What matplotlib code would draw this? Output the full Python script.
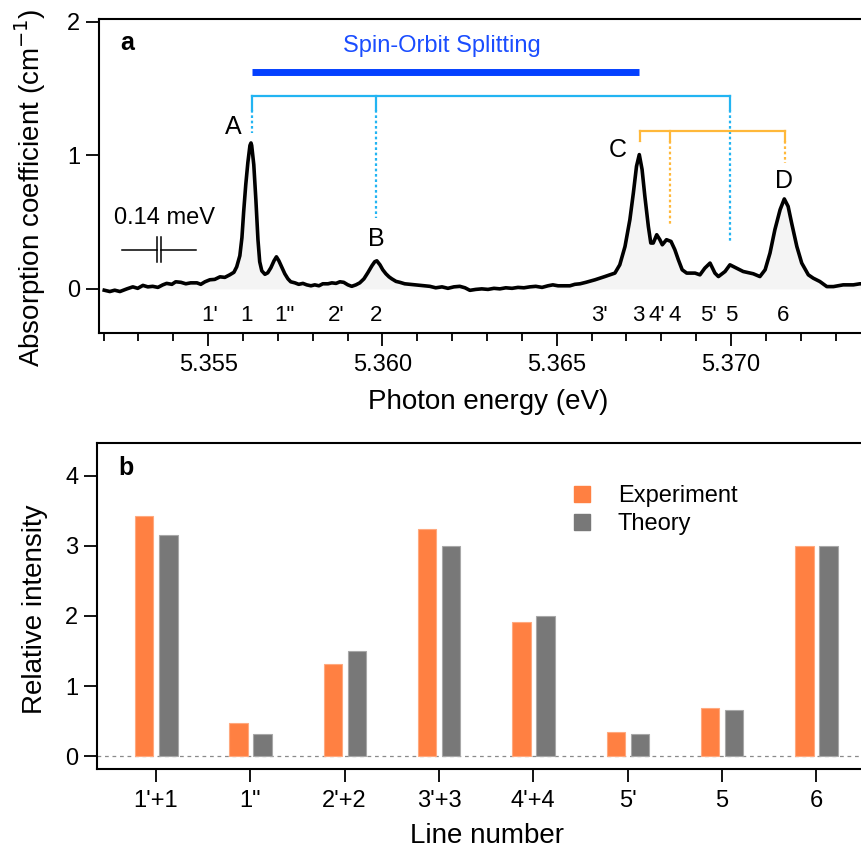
import matplotlib
matplotlib.use("Agg")
import matplotlib.pyplot as plt
from matplotlib.ticker import MultipleLocator, FormatStrFormatter
from matplotlib.patches import Patch

plt.rcParams['font.family'] = ['Liberation Sans', 'DejaVu Sans']

# --- panel a: absorption spectrum ---
energy = [5.35202, 5.35218, 5.35232, 5.35247, 5.35267, 5.35284, 5.35298, 5.35313,
          5.35327, 5.35341, 5.35356, 5.35370, 5.35381, 5.35396, 5.35407, 5.35422,
          5.35436, 5.35450, 5.35468, 5.35479, 5.35491, 5.35505, 5.35519, 5.35534,
          5.35548, 5.35562, 5.35574, 5.35582, 5.35591, 5.35597, 5.35602, 5.35608,
          5.35614, 5.35620, 5.35623, 5.35625, 5.35631, 5.35637, 5.35643, 5.35648,
          5.35654, 5.35663, 5.35671, 5.35680, 5.35689, 5.35696, 5.35703, 5.35712,
          5.35720, 5.35729, 5.35737, 5.35749, 5.35760, 5.35772, 5.35783, 5.35795,
          5.35806, 5.35818, 5.35829, 5.35844, 5.35855, 5.35867, 5.35878, 5.35889,
          5.35901, 5.35912, 5.35924, 5.35935, 5.35947, 5.35958, 5.35970, 5.35978,
          5.35984, 5.35993, 5.36001, 5.36010, 5.36019, 5.36027, 5.36039, 5.36050,
          5.36064, 5.36079, 5.36093, 5.36108, 5.36122, 5.36136, 5.36153, 5.36171,
          5.36188, 5.36205, 5.36222, 5.36237, 5.36251, 5.36268, 5.36285, 5.36303,
          5.36320, 5.36337, 5.36354, 5.36372, 5.36389, 5.36406, 5.36423, 5.36440,
          5.36458, 5.36475, 5.36489, 5.36504, 5.36521, 5.36538, 5.36552, 5.36567,
          5.36584, 5.36610, 5.36638, 5.36667, 5.36681, 5.36696, 5.36710, 5.36720,
          5.36729, 5.36737, 5.36745, 5.36753, 5.36763, 5.36770, 5.36777, 5.36787,
          5.36796, 5.36803, 5.36815, 5.36828, 5.36839, 5.36849, 5.36860, 5.36873,
          5.36897, 5.36911, 5.36925, 5.36940, 5.36954, 5.36964, 5.36983, 5.36997,
          5.37016, 5.37035, 5.37064, 5.37083, 5.37098, 5.37112, 5.37126, 5.37141,
          5.37153, 5.37164, 5.37174, 5.37189, 5.37203, 5.37222, 5.37236, 5.37255,
          5.37275, 5.37294, 5.37322, 5.37351, 5.37370, 5.37400, 5.37430]
absorb = [-0.01, -0.02, -0.01, -0.02, 0.0, 0.015, 0.004, 0.026,
          0.015, 0.019, 0.011, 0.030, 0.041, 0.034, 0.053, 0.049,
          0.038, 0.045, 0.045, 0.034, 0.053, 0.068, 0.071, 0.090,
          0.086, 0.105, 0.124, 0.165, 0.248, 0.383, 0.578, 0.780,
          0.945, 1.073, 1.092, 1.073, 0.930, 0.668, 0.368, 0.203,
          0.135, 0.109, 0.120, 0.158, 0.210, 0.240, 0.210, 0.158,
          0.113, 0.075, 0.053, 0.045, 0.034, 0.041, 0.030, 0.023,
          0.030, 0.023, 0.038, 0.038, 0.045, 0.041, 0.053, 0.049,
          0.030, 0.019, 0.030, 0.045, 0.075, 0.120, 0.173, 0.203,
          0.210, 0.180, 0.143, 0.113, 0.090, 0.075, 0.056, 0.049,
          0.038, 0.034, 0.030, 0.026, 0.023, 0.019, 0.008, 0.015,
          0.004, 0.015, 0.019, 0.008, -0.011, -0.004, 0.0, -0.004,
          0.004, 0.0, 0.008, 0.004, 0.011, 0.008, 0.015, 0.019,
          0.011, 0.023, 0.030, 0.023, 0.023, 0.023, 0.034, 0.038,
          0.049, 0.068, 0.092, 0.118, 0.180, 0.317, 0.518, 0.718,
          0.917, 1.005, 0.893, 0.692, 0.467, 0.343, 0.343, 0.405,
          0.368, 0.330, 0.368, 0.355, 0.293, 0.218, 0.143, 0.118,
          0.118, 0.105, 0.155, 0.193, 0.118, 0.092, 0.130, 0.180,
          0.155, 0.130, 0.113, 0.092, 0.143, 0.268, 0.443, 0.593,
          0.673, 0.617, 0.493, 0.317, 0.193, 0.105, 0.080, 0.055,
          0.017, 0.017, 0.030, 0.030, 0.038, 0.035, 0.030]

line_pos = [5.35505, 5.35610, 5.35720, 5.35868, 5.35981, 5.36624, 5.36734,
            5.36787, 5.36839, 5.36935, 5.37002, 5.37150]
line_lbl = ["1'", "1", '1"', "2'", "2", "3'", "3", "4'", "4", "5'", "5", "6"]

peak_lbl = ["A", "B", "C", "D"]
peak_x = [5.35571, 5.35983, 5.36675, 5.37152]
peak_y = [1.21, 0.373, 1.043, 0.805]

# brackets
so_x = [5.35625, 5.36737]
so_y = 1.62
cyan_x = [5.35625, 5.35983, 5.36997]
cyan_end = [1.17, 0.53, 0.345]
cyan_y = 1.44
orange_x = [5.36739, 5.36825, 5.37155]
orange_end = [1.10, 0.48, 0.945]
orange_y = 1.185

# --- panel b: relative intensities ---
categories = ["1'+1", '1"', "2'+2", "3'+3", "4'+4", "5'", "5", "6"]
experiment = [3.43, 0.47, 1.32, 3.24, 1.91, 0.35, 0.68, 3.00]
theory = [3.16, 0.32, 1.50, 3.00, 2.00, 0.32, 0.66, 3.00]

fig = plt.figure(figsize=(8.61, 8.47), dpi=100)
ax1 = fig.add_axes([0.1150, 0.6069, 0.9036, 0.3707])
ax2 = fig.add_axes([0.1127, 0.0924, 0.9059, 0.3849])

CYAN = "#22B4F2"
ORANGE = "#FFB83A"
BLUE = "#0440FF"

# panel a
ax1.fill_between(energy, absorb, 0, color="#F4F4F4", lw=0, zorder=1)
ax1.plot(energy, absorb, color="black", lw=2.6, zorder=3)

ax1.plot(so_x, [so_y, so_y], color=BLUE, lw=5, solid_capstyle="butt")
ax1.text(sum(so_x) / 2 - 0.0001, 1.815, "Spin-Orbit Splitting", color="#1A4DFF",
         fontsize=17, ha="center", va="center")

ax1.plot([cyan_x[0], cyan_x[-1]], [cyan_y, cyan_y], color=CYAN, lw=1.6)
for xx, ye in zip(cyan_x, cyan_end):
    ax1.plot([xx, xx], [cyan_y, 1.34], color=CYAN, lw=1.6)
    ax1.plot([xx, xx], [1.34, ye], color=CYAN, lw=1.6, ls=(0, (1.2, 1.2)))

ax1.plot([orange_x[0], orange_x[-1]], [orange_y, orange_y], color=ORANGE, lw=1.6)
for xx, ye in zip(orange_x, orange_end):
    ax1.plot([xx, xx], [orange_y, 1.105], color=ORANGE, lw=1.6)
    if ye < 1.105:
        ax1.plot([xx, xx], [1.105, ye], color=ORANGE, lw=1.6, ls=(0, (1.2, 1.2)))

for lbl, xx, yy in zip(peak_lbl, peak_x, peak_y):
    ax1.text(xx, yy, lbl, fontsize=18, ha="center", va="center")

for lbl, xx in zip(line_lbl, line_pos):
    ax1.text(xx, -0.2, lbl, fontsize=16, ha="center", va="center")

# resolution marker 0.14 meV
ax1.plot([5.35254, 5.35352], [0.293, 0.293], color="black", lw=1.1)
ax1.plot([5.35364, 5.35464], [0.293, 0.293], color="black", lw=1.1)
ax1.plot([5.35352, 5.35352], [0.20, 0.39], color="black", lw=1.1)
ax1.plot([5.35366, 5.35366], [0.20, 0.39], color="black", lw=1.1)
ax1.text(5.35376, 0.53, "0.14 meV", fontsize=17, ha="center", va="center")

ax1.text(0.027, 0.924, "a", transform=ax1.transAxes, fontsize=18,
         fontweight="bold", ha="left", va="center")

ax1.set_xlim(5.35187, 5.37419)
ax1.set_ylim(-0.33, 2.02)
ax1.xaxis.set_major_locator(MultipleLocator(0.005))
ax1.xaxis.set_minor_locator(MultipleLocator(0.001))
ax1.xaxis.set_major_formatter(FormatStrFormatter("%.3f"))
ax1.yaxis.set_major_locator(MultipleLocator(1))
ax1.set_xlabel("Photon energy (eV)", fontsize=20)
ax1.set_ylabel("Absorption coefficient (cm$^{-1}$)", fontsize=20)
ax1.xaxis.set_label_coords(0.5, -0.18)
ax1.yaxis.set_label_coords(-0.066, 0.463)

# panel b
x = list(range(len(categories)))
w = 0.195
ax2.axhline(0, color="#8A8A8A", lw=0.9, ls=(0, (3, 3)), zorder=0)
ax2.bar([i - 0.125 for i in x], experiment, w, color="#FF8042",
        edgecolor="#FFA97F", lw=0.8, label="Experiment", zorder=2)
ax2.bar([i + 0.13 for i in x], theory, w, color="#787878",
        edgecolor="#A8A8A8", lw=0.8, label="Theory", zorder=2)
ax2.set_xticks(x, categories)
ax2.set_xlim(-0.626, 7.646)
ax2.set_ylim(-0.18, 4.47)
ax2.yaxis.set_major_locator(MultipleLocator(1))
ax2.set_xlabel("Line number", fontsize=20)
ax2.set_ylabel("Relative intensity", fontsize=20)
ax2.xaxis.set_label_coords(0.5, -0.165)
ax2.yaxis.set_label_coords(-0.063, 0.49)
ax2.text(0.027, 0.922, "b", transform=ax2.transAxes, fontsize=18,
         fontweight="bold", ha="left", va="center")
ax2.legend(handles=[Patch(color="#FF8042", label="Experiment"),
                    Patch(color="#787878", label="Theory")],
           loc="upper left", bbox_to_anchor=(0.611, 0.87), frameon=False,
           fontsize=17, handlelength=0.68, handleheight=0.68,
           handletextpad=1.2, labelspacing=0.25, borderpad=0, borderaxespad=0)

for ax in (ax1, ax2):
    for s in ax.spines.values():
        s.set_linewidth(1.5)
    ax.tick_params(which="major", direction="out", length=9.5, width=1.3,
                   labelsize=17, pad=6)
    ax.tick_params(which="minor", direction="out", length=6, width=1.3)
    ax.tick_params(axis="y", pad=4)

fig.savefig("out.png", dpi=100)
